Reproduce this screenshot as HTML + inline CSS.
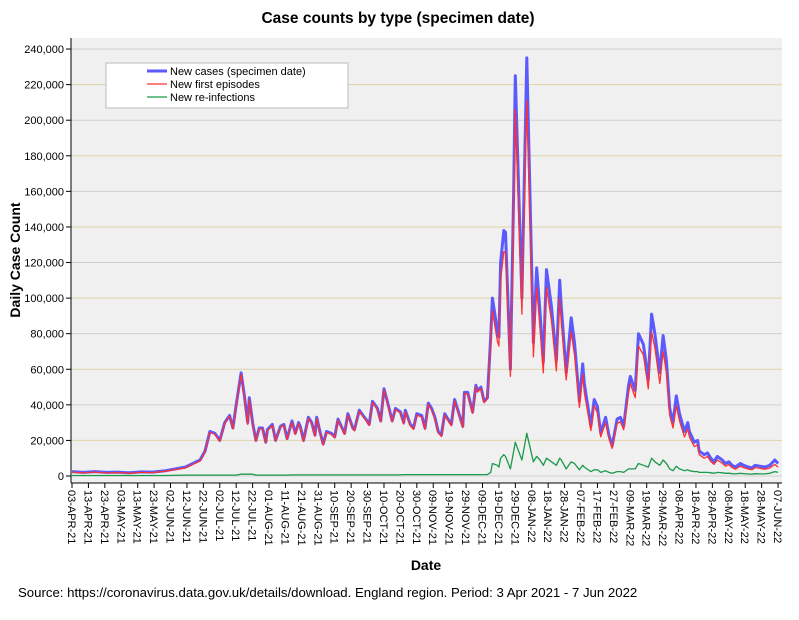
<!DOCTYPE html>
<html><head><meta charset="utf-8">
<style>
body{margin:0;background:#fff;font-family:"Liberation Sans",Arial,sans-serif;}
svg text{font-family:"Liberation Sans",Arial,sans-serif;}
</style></head><body>
<svg id="chart" width="799" height="615" xmlns="http://www.w3.org/2000/svg">
<rect width="799" height="615" fill="#fff"/>
<text x="398" y="23" text-anchor="middle" font-size="15.5" font-weight="bold">Case counts by type (specimen date)</text>
<rect x="71" y="38" width="711" height="445" fill="#f0f0f0"/>
<g id="grid"></g>
<g id="series"></g>
<line x1="71" y1="38" x2="71" y2="483" stroke="#000"/>
<line x1="71" y1="483" x2="782" y2="483" stroke="#000"/>
<g id="yticks"></g>
<g id="xticks"></g>
<text transform="translate(20,260) rotate(-90)" text-anchor="middle" font-size="14" font-weight="bold">Daily Case Count</text>
<text x="426" y="570" text-anchor="middle" font-size="14" font-weight="bold">Date</text>
<text x="18" y="597" font-size="13.2">Source: https://coronavirus.data.gov.uk/details/download. England region. Period: 3 Apr 2021 - 7 Jun 2022</text>
<g>
<rect x="106" y="63" width="242" height="45" fill="#fff" stroke="#bbb"/>
<line x1="147" y1="71" x2="167" y2="71" stroke="#5a5aff" stroke-width="3"/>
<text x="170" y="75" font-size="11">New cases (specimen date)</text>
<line x1="147" y1="84" x2="167" y2="84" stroke="#ff3030" stroke-width="1.3"/>
<text x="170" y="88" font-size="11">New first episodes</text>
<line x1="147" y1="97" x2="167" y2="97" stroke="#1a9a4a" stroke-width="1.3"/>
<text x="170" y="101" font-size="11">New re-infections</text>
</g>
</svg>
<script>
const days=[0,7,14,21,28,35,42,49,57,69,78,81,84,87,90,93,96,98,100,103,105,107,108,110,112,114,116,118,119,122,124,127,129,131,134,136,138,139,141,144,146,148,149,151,153,155,158,160,162,164,166,168,171,172,175,178,179,181,183,186,188,190,192,195,197,200,202,203,206,208,210,213,215,217,219,221,223,225,227,229,231,233,235,238,239,241,244,246,247,249,251,253,255,256,259,260,261,263,264,267,269,270,274,277,281,283,285,287,289,292,295,297,298,301,304,306,309,311,312,316,318,320,322,325,327,329,332,334,336,339,340,343,345,348,351,353,355,358,360,362,364,366,368,370,373,375,376,379,381,382,385,387,389,391,393,396,398,400,402,404,407,409,412,414,416,419,422,425,428,430];
const cases=[2.5,2,2.5,2,2.2,1.8,2.3,2.2,3,5,9,14,25,24,20,30,34,27,40,58,45,30,44,30,20,27,27,19,26,29,20,28,29,21,31,24,30,28,20,33,30,23,33,25,18,25,24,22,32,28,24,35,27,26,37,33,32,29,42,38,31,49,42,31,38,36,30,37,29,27,35,34,27,41,38,33,25,23,35,32,29,43,37,28,47,47,36,51,48,50,42,44,78,100,82,78,120,138,137,60,161,225,100,235,75,117,92,64,116,95,65,110,95,58,89,75,42,63,52,28,43,39,24,33,23,17,32,33,28,51,56,48,80,74,54,91,80,58,79,65,38,30,45,35,25,30,25,19,20,14,12,13,10,8,11,9,7,8,6,5,7,6,5,4.5,6,5.5,5,6,9,7];
const firstEpisodes=[2.2,1.7,2.2,1.7,1.9,1.5,2,1.9,2.7,4.5,8.5,13.5,24.5,23.5,19.5,29.5,33.5,26.5,39.5,57,44,29,43,29,19.5,26.5,26.5,18.5,25.5,28.5,19.5,27.5,28.5,20.5,30.4,23.4,29.4,27.4,19.4,32.4,29.4,22.4,32.4,24.4,17.4,24.4,23.4,21.4,31.4,27.4,23.4,34.4,26.4,25.4,36.4,32.4,31.4,28.4,41.4,37.4,30.4,48.4,41.4,30.4,37.4,35.4,29.2,36.2,28.2,26.2,34.2,33.2,26.2,40.2,37.2,32.2,24.2,22.2,34.2,31.2,28.2,42.2,36.2,27.2,46.2,46.2,35.2,50.2,47.2,49.2,41.2,43.2,76,93,76,73,110,126,126,56,147,206,91,211,67,106,83,58,106,87,59,100,86,54,81,68,38.5,57,47,25.5,39.5,35.5,22,30,21,15.5,29.5,30.5,26,47,52,44,73,68,49,81,72,52,70,58,34,27,39.5,31,22,26.5,22,16.5,17.5,12,10,11,8.2,6.5,9,7.2,5.5,6.4,4.7,3.8,5.5,4.7,3.9,3.5,4.7,4.3,3.8,4.5,6.5,5];
const reinfections=[0.3,0.3,0.3,0.3,0.3,0.3,0.3,0.3,0.3,0.5,0.5,0.5,0.5,0.5,0.5,0.5,0.5,0.5,0.5,1,1,1,1,1,0.5,0.5,0.5,0.5,0.5,0.5,0.5,0.5,0.5,0.5,0.6,0.6,0.6,0.6,0.6,0.6,0.6,0.6,0.6,0.6,0.6,0.6,0.6,0.6,0.6,0.6,0.6,0.6,0.6,0.6,0.6,0.6,0.6,0.6,0.6,0.6,0.6,0.6,0.6,0.6,0.6,0.6,0.8,0.8,0.8,0.8,0.8,0.8,0.8,0.8,0.8,0.8,0.8,0.8,0.8,0.8,0.8,0.8,0.8,0.8,0.8,0.8,0.8,0.8,0.8,0.8,0.8,0.8,2,7,6,5,10,12,11,4,14,19,9,24,8,11,9,6,10,8,6,10,9,4,8,7,3.5,6,5,2.5,3.5,3.5,2,3,2,1.5,2.5,2.5,2,4,4,4,7,6,5,10,8,6,9,7,4,3,5.5,4,3,3.5,3,2.5,2.5,2,2,2,1.8,1.5,2,1.8,1.5,1.6,1.3,1.2,1.5,1.3,1.1,1,1.3,1.2,1.2,1.5,2.5,2];
const yTicks=[0,20,40,60,80,100,120,140,160,180,200,220,240];
const xLabels=["03-APR-21","13-APR-21","23-APR-21","03-MAY-21","13-MAY-21","23-MAY-21","02-JUN-21","12-JUN-21","22-JUN-21","02-JUL-21","12-JUL-21","22-JUL-21","01-AUG-21","11-AUG-21","21-AUG-21","31-AUG-21","10-SEP-21","20-SEP-21","30-SEP-21","10-OCT-21","20-OCT-21","30-OCT-21","09-NOV-21","19-NOV-21","29-NOV-21","09-DEC-21","19-DEC-21","29-DEC-21","08-JAN-22","18-JAN-22","28-JAN-22","07-FEB-22","17-FEB-22","27-FEB-22","09-MAR-22","19-MAR-22","29-MAR-22","08-APR-22","18-APR-22","28-APR-22","08-MAY-22","18-MAY-22","28-MAY-22","07-JUN-22"];

const NS="http://www.w3.org/2000/svg";
function xs(d){return 72+d*1.642;}
function ys(v){return 476-v*1.779;}
function mk(tag,attrs,parent){const e=document.createElementNS(NS,tag);for(const k in attrs)e.setAttribute(k,attrs[k]);parent.appendChild(e);return e;}
const grid=document.getElementById('grid'),yt=document.getElementById('yticks'),xt=document.getElementById('xticks'),ser=document.getElementById('series');
yTicks.forEach(v=>{
  const g=mk('line',{x1:71,x2:782,y1:ys(v),y2:ys(v),stroke:(v%40===0?'#cfcfcf':'#ddd4a8'),'stroke-width':1},grid);
  
  
  mk('line',{x1:66,x2:71,y1:ys(v),y2:ys(v),stroke:'#000'},yt);
  const t=mk('text',{x:64,y:ys(v)+4,'text-anchor':'end','font-size':11},yt);
  t.textContent=v===0?'0':(v+',000');
  
  
});
xLabels.forEach((l,i)=>{
  const x=xs(i*10);
  mk('line',{x1:x,x2:x,y1:483,y2:488,stroke:'#000'},xt);
  const t=mk('text',{transform:`translate(${x-4},490) rotate(90)`,'font-size':11},xt);
  t.textContent=l;
  
  
});
function line(arr,color,w,name){
  const n=Math.min(days.length,arr.length);
  let d='';
  for(let i=0;i<n;i++)d+=(i?'L':'M')+xs(days[i]).toFixed(1)+','+ys(arr[i]).toFixed(1);
  const p=mk('path',{d:d,fill:'none',stroke:color,'stroke-width':w,'stroke-linejoin':'round'},ser);
  
  
}
line(cases,'#5a5aff',3,'new-cases-line');
line(firstEpisodes,'#ff3030',1.3,'first-episodes-line');
line(reinfections,'#1a9a4a',1.3,'reinfections-line');
</script>
</body></html>
